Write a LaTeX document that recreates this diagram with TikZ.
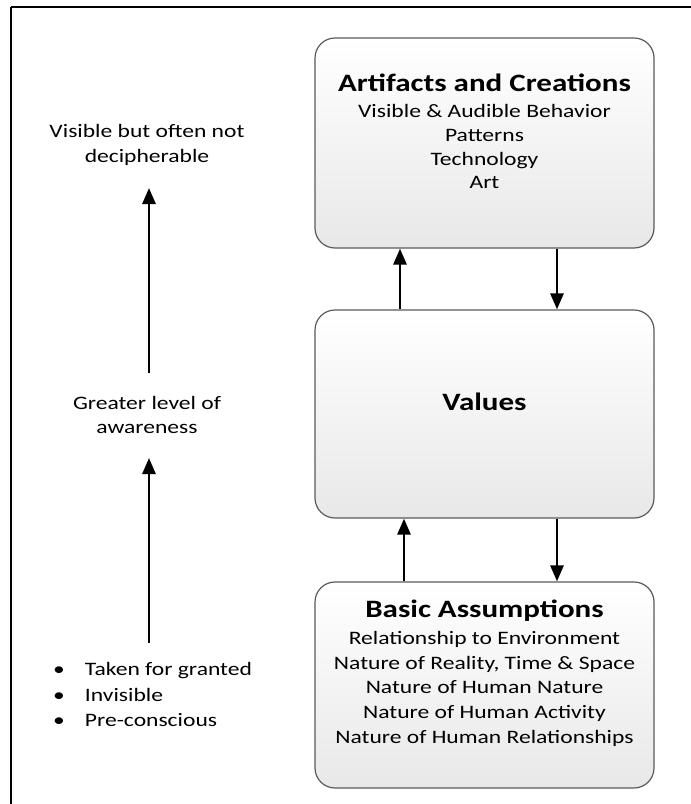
\documentclass[tikz,border=0pt]{standalone}
\usepackage{fontspec}
\setmainfont{Carlito}[FakeStretch=1.24]
\usetikzlibrary{arrows.meta,calc}
\definecolor{boxedge}{HTML}{5A5A5A}
\definecolor{boxlow}{HTML}{E8E8E8}
\begin{document}
\begin{tikzpicture}[x=1pt,y=-1pt,
  layerbox/.style={draw=boxedge,line width=1.2pt,rounded corners=20pt,
    top color=white,bottom color=boxlow,minimum width=339pt,inner sep=0pt},
  arr/.style={line width=2.8pt,-{Triangle[width=13pt,length=16pt]}},
  txt/.style={font=\fontsize{19}{24.5}\selectfont,align=center,inner sep=0pt},
  ttl/.style={font=\fontsize{25}{28}\selectfont\bfseries,inner sep=0pt}]
\useasboundingbox (0,0) rectangle (691,804);
\fill[white] (0,0) rectangle (691,804);
% frame lines
\draw[line width=2pt] (11,7) -- (691,7);
\draw[line width=2pt] (11,7) -- (11,804);

% three layers
\node[layerbox,minimum height=210pt] (art) at (484.5,143) {};
\node[layerbox,minimum height=208pt] (val) at (484.5,414) {};
\node[layerbox,minimum height=206pt] (bas) at (484.5,685) {};

% layer texts
\node[ttl] (artT) at (484.5,83) {Artifacts and Creations};
\node[txt,font=\fontsize{19}{23.7}\selectfont,anchor=north] (artL) at (484.5,104.5) {Visible \& Audible Behavior\\Patterns\\Technology\\Art};
\node[ttl] (valT) at (484.5,402) {Values};
\node[ttl] (basT) at (484.5,611) {Basic Assumptions};
\node[txt,font=\fontsize{19}{24.75}\selectfont,anchor=north] (basL) at (484.5,631) {Relationship to Environment\\Nature of Reality, Time \& Space\\Nature of Human Nature\\Nature of Human Activity\\Nature of Human Relationships};

% links between layers
\draw[arr] ([xshift=-84.5pt]val.north) -- ([xshift=-84.5pt]art.south);
\draw[arr] ([xshift=72.5pt]art.south) -- ([xshift=72.5pt]val.north);
\draw[arr] ([xshift=-80.5pt]bas.north) -- ([xshift=-80.5pt]val.south);
\draw[arr] ([xshift=72.5pt]val.south) -- ([xshift=72.5pt]bas.north);

% awareness scale
\node[txt] (vis) at (147,145) {Visible but often not\\decipherable};
\node[txt] (grt) at (147,415) {Greater level of\\awareness};
\node[txt,font=\fontsize{19}{25.5}\selectfont,align=left,anchor=west] (lst) at (53,694.5) {•\hspace{20pt}Taken for granted\\•\hspace{20pt}Invisible\\•\hspace{20pt}Pre-conscious};
\coordinate (a1s) at (149,373);
\coordinate (a1e) at (149,188);
\coordinate (a2s) at (149,643);
\coordinate (a2e) at (149,458);
\draw[arr] (a1s) -- (a1e);
\draw[arr] (a2s) -- (a2e);
\end{tikzpicture}
\end{document}
